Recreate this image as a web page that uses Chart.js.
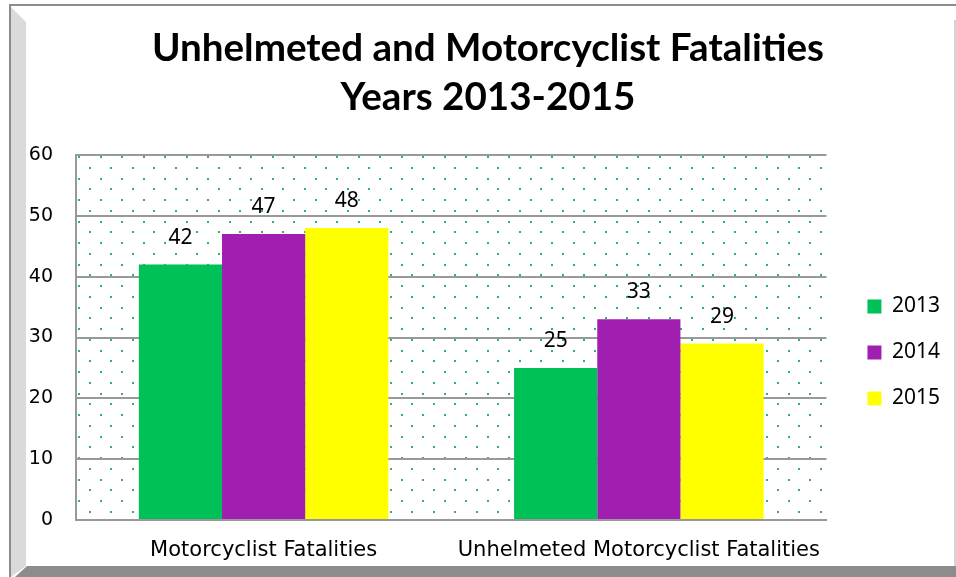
<!DOCTYPE html>
<html>
<head>
<meta charset="utf-8">
<script src="https://cdn.jsdelivr.net/npm/chart.js@4"></script>
<style>
  html, body { margin: 0; padding: 0; background: #fff; }
  #wrap { width: 956px; height: 577px; }
</style>
</head>
<body>
<div id="wrap"><canvas id="graphic" width="956" height="577"></canvas></div>
<script>
var categories = ['Motorcyclist Fatalities', 'Unhelmeted Motorcyclist Fatalities'];
var years = ['2013', '2014', '2015'];
var values2013 = [42, 25];
var values2014 = [47, 33];
var values2015 = [48, 29];
var yTicks = [0, 10, 20, 30, 40, 50, 60];

var ctx = document.getElementById('graphic').getContext('2d');

// frame around the chart, dotted fill of the plot area, value labels
var backdrop = {
    id: 'backdrop',
    beforeDraw: function (chart) {
        var c = chart.ctx;
        var w = chart.width, h = chart.height;
        c.save();
        c.fillStyle = '#ffffff';
        c.fillRect(0, 0, w, h);
        // left bevel
        c.fillStyle = '#dadada';
        c.beginPath();
        c.moveTo(11, 7);
        c.lineTo(26, 22);
        c.lineTo(26, 566);
        c.lineTo(11, h);
        c.closePath();
        c.fill();
        // bottom bar
        c.fillStyle = '#8c8c8c';
        c.beginPath();
        c.moveTo(27, 566);
        c.lineTo(w, 566);
        c.lineTo(w, h);
        c.lineTo(15, h);
        c.closePath();
        c.fill();
        // outer lines
        c.fillRect(9, 5, 2, h - 5);
        c.fillRect(9, 4, w - 9, 2);
        c.fillStyle = '#d4d4d4';
        c.fillRect(954, 20, 2, 546);

        var a = chart.chartArea;
        c.beginPath();
        c.rect(a.left, a.top, a.right - a.left, a.bottom - a.top);
        c.clip();
        c.fillStyle = '#2fb36b';
        var row = 0;
        for (var y = a.top + 1; y < a.bottom; y += 10.75) {
            var x0 = a.left + 2 + (row % 2 ? 10.75 : 0);
            for (var x = x0; x < a.right; x += 21.5) {
                c.fillRect(Math.round(x), Math.round(y), 2, 2);
            }
            row++;
        }
        c.restore();
    },
    afterDatasetsDraw: function (chart) {
        var c = chart.ctx;
        c.save();
        c.fillStyle = '#000';
        c.font = '21px "Noto Sans"';
        c.textAlign = 'center';
        c.textBaseline = 'middle';
        chart.data.datasets.forEach(function (ds, i) {
            chart.getDatasetMeta(i).data.forEach(function (bar, j) {
                c.fillText(ds.data[j], bar.x, bar.y - 27);
            });
        });
        c.restore();
    }
};

var graphic = new Chart(ctx, {
    type: 'bar',
    data: {
        labels: categories,
        datasets: [
            { label: years[0], data: values2013, backgroundColor: '#00c058' },
            { label: years[1], data: values2014, backgroundColor: '#a01eb0' },
            { label: years[2], data: values2015, backgroundColor: '#ffff00' }
        ]
    },
    options: {
        responsive: false,
        animation: false,
        devicePixelRatio: 1,
        layout: { padding: { left: 26, right: 6, top: 0, bottom: 0 } },
        datasets: {
            bar: { categoryPercentage: 0.665, barPercentage: 1 }
        },
        scales: {
            x: {
                grid: { display: false, drawTicks: false },
                border: { color: '#999999', width: 2 },
                ticks: { color: '#000', font: { family: 'DejaVu Sans', size: 21 }, padding: 18 },
                afterFit: function (s) { s.height = 57; }
            },
            y: {
                min: 0,
                max: 60,
                afterBuildTicks: function (s) {
                    s.ticks = yTicks.map(function (v) { return { value: v }; });
                },
                grid: { color: '#999999', lineWidth: 2, drawTicks: false },
                border: { color: '#999999', width: 2 },
                ticks: { color: '#000', font: { family: 'DejaVu Sans', size: 19 }, padding: 23 },
                afterFit: function (s) { s.width = 50; }
            },
            gap: {
                position: 'right',
                type: 'linear',
                ticks: { display: false },
                grid: { display: false, drawTicks: false },
                border: { display: false },
                afterFit: function (s) { s.width = 16; }
            }
        },
        plugins: {
            title: {
                display: true,
                text: ['Unhelmeted and Motorcyclist Fatalities', 'Years 2013-2015'],
                color: '#000',
                font: { family: 'Lato', size: 38.6, weight: 'bold', lineHeight: 1.27 },
                padding: { top: 24, bottom: 33 }
            },
            legend: {
                position: 'right',
                title: { display: true, text: ' ', font: { size: 20 }, padding: { top: 0, bottom: 104 } },
                labels: {
                    color: '#000',
                    font: { family: 'Noto Sans', size: 21 },
                    boxWidth: 14,
                    boxHeight: 14,
                    padding: 25
                }
            },
            tooltip: { enabled: false }
        }
    },
    plugins: [backdrop]
});
</script>
</body>
</html>
